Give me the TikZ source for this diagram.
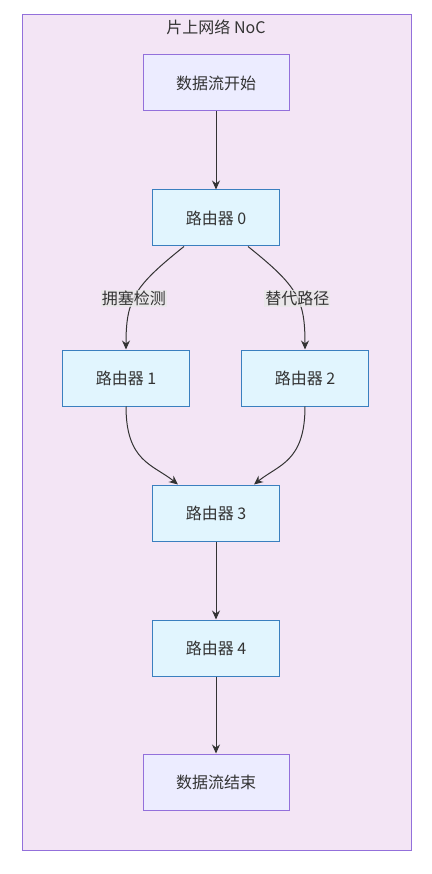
\documentclass[tikz,border=0pt]{standalone}
\usepackage{fontspec}
\setmainfont{Noto Sans CJK SC}
\usetikzlibrary{arrows.meta,positioning,calc}
\definecolor{noc}{HTML}{F3E5F5}
\definecolor{nocline}{HTML}{9370DB}
\definecolor{endfill}{HTML}{ECECFF}
\definecolor{rfill}{HTML}{E1F5FE}
\definecolor{rline}{HTML}{3A7FBF}
\definecolor{edgec}{HTML}{333333}
\definecolor{lblbg}{HTML}{E8E8E8}
\begin{document}
\begin{tikzpicture}[x=1pt,y=-1pt,
  font=\fontsize{16}{18}\selectfont,
  ends/.style={draw=nocline,fill=endfill,line width=1pt,minimum width=146pt,minimum height=56pt,text=edgec},
  router/.style={draw=rline,fill=rfill,line width=1pt,minimum width=127pt,minimum height=56pt,text=edgec},
  edge/.style={draw=edgec,line width=1pt,-{Stealth[length=9pt,width=8pt]}},
  lbl/.style={fill=lblbg,fill opacity=0.8,text opacity=1,inner sep=1pt,text=edgec}]
				\useasboundingbox (0,0) rectangle (431,874);
				% sous-graphe
				\draw[fill=noc,draw=nocline,line width=1pt] (22,15) rectangle (411,850);
				\node[text=edgec] (titre) at (216,27) {片上网络 NoC};
				% noeuds
				\node[ends] (debut) at (216,83) {数据流开始};
				\node[router] (r0) at (216,218) {路由器 0};
				\node[router] (r1) at (126,378) {路由器 1};
				\node[router] (r2) at (305,378) {路由器 2};
				\node[router] (r3) at (216,513) {路由器 3};
				\node[router] (r4) at (216,648) {路由器 4};
				\node[ends] (fin) at (216,782) {数据流结束};
				% liens
				\draw[edge] (debut) -- (r0);
				\draw[edge] ([xshift=-32pt]r0.south) .. controls ($([xshift=-32pt]r0.south)+(-50,40)$) and ($(r1.north)+(0,-50)$) .. (r1.north)
				   node[lbl,pos=0.55] {拥塞检测};
				\draw[edge] ([xshift=32pt]r0.south) .. controls ($([xshift=32pt]r0.south)+(50,40)$) and ($(r2.north)+(0,-50)$) .. (r2.north)
				   node[lbl,pos=0.55] {替代路径};
				\draw[edge] (r1.south) .. controls ($(r1.south)+(0,55)$) and ($([xshift=-38pt]r3.north)+(-25,-20)$) .. ([xshift=-38pt]r3.north);
				\draw[edge] (r2.south) .. controls ($(r2.south)+(0,55)$) and ($([xshift=38pt]r3.north)+(25,-20)$) .. ([xshift=38pt]r3.north);
				\draw[edge] (r3) -- (r4);
				\draw[edge] (r4) -- (fin);
\end{tikzpicture}
\end{document}
